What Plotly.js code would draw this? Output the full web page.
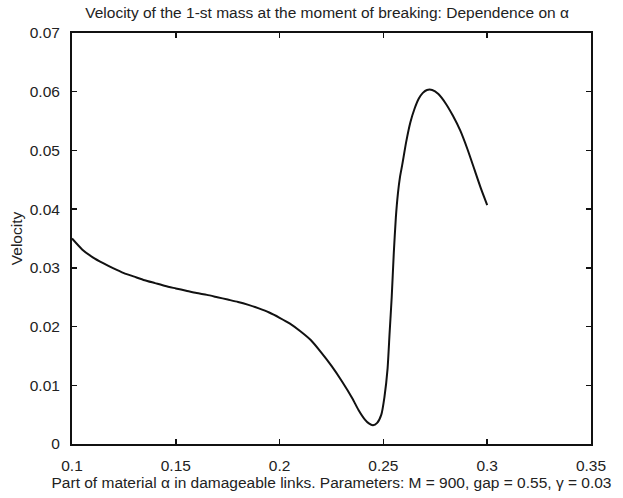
<!DOCTYPE html>
<html>
<head>
<meta charset="utf-8">
<script src="https://cdn.plot.ly/plotly-3.0.1.min.js"></script>
<style>html,body{margin:0;padding:0;background:#fff;}#chart{width:623px;height:498px;}</style>
</head>
<body>
<div id="chart"></div>
<script>
const alphaValues = [0.100,0.105,0.110,0.115,0.120,0.125,0.130,0.135,0.140,0.145,0.150,0.155,0.160,0.165,0.170,0.175,0.180,0.185,0.190,0.195,0.200,0.205,0.210,0.215,0.220,0.225,0.230,0.235,0.238,0.241,0.243,0.245,0.247,0.249,0.2505,0.252,0.253,0.254,0.255,0.256,0.257,0.258,0.259,0.261,0.263,0.265,0.267,0.269,0.271,0.2735,0.2765,0.280,0.2835,0.287,0.2905,0.294,0.297,0.300];
const velocityValues = [0.0350,0.0331,0.0318,0.0308,0.0299,0.0291,0.0285,0.0279,0.0274,0.0269,0.0265,0.0261,0.0257,0.0254,0.0250,0.0246,0.0242,0.0237,0.0231,0.0224,0.0215,0.0205,0.0192,0.0177,0.0156,0.0133,0.0107,0.0078,0.0058,0.0042,0.0035,0.0032,0.0036,0.0050,0.0080,0.0128,0.0190,0.0250,0.0325,0.0386,0.0427,0.0455,0.0474,0.0515,0.0548,0.0571,0.0588,0.0598,0.0603,0.0603,0.0596,0.0580,0.0559,0.0534,0.0502,0.0466,0.0435,0.0407];
const xTickValues = [0.1,0.15,0.2,0.25,0.3,0.35];
const xTickLabels = ["0.1","0.15","0.2","0.25","0.3","0.35"];
const yTickValues = [0,0.01,0.02,0.03,0.04,0.05,0.06,0.07];
const yTickLabels = ["0","0.01","0.02","0.03","0.04","0.05","0.06","0.07"];

const font = "Liberation Sans, Arial, Helvetica, sans-serif";
const fs = 15.5;
const trace = {
  x: alphaValues, y: velocityValues, type: "scatter", mode: "lines",
  line: {color: "#111", width: 2, shape: "spline", smoothing: 0.6},
  hoverinfo: "skip"
};
const axisCommon = {
  showline: true, linecolor: "#111", linewidth: 2, mirror: "ticks",
  ticks: "inside", ticklen: 5, tickwidth: 1.5, tickcolor: "#111",
  showgrid: false, zeroline: false, tickmode: "array",
  tickfont: {family: font, size: fs, color: "#222"}
};
const layout = {
  width: 623, height: 498,
  margin: {l: 72, r: 32, t: 33, b: 54},
  paper_bgcolor: "#fff", plot_bgcolor: "#fff",
  showlegend: false,
  title: {text: "Velocity of the 1-st mass at the moment of breaking: Dependence on α",
          font: {family: font, size: fs, color: "#222"}, x: 0.525, xanchor: "center", y: 0.974, yanchor: "middle"},
  xaxis: Object.assign({}, axisCommon, {
    range: [0.1, 0.35], tickvals: xTickValues, ticktext: xTickLabels, ticklabelstandoff: 6,
    title: {text: "Part of material α in damageable links. Parameters: M = 900, gap = 0.55, γ = 0.03",
            font: {family: font, size: fs, color: "#222"}, standoff: 5}
  }),
  yaxis: Object.assign({}, axisCommon, {
    range: [0, 0.07], tickvals: yTickValues, ticktext: yTickLabels, ticklabelstandoff: 7,
    title: {text: "Velocity", font: {family: font, size: fs, color: "#222"}, standoff: 3}
  })
};
Plotly.newPlot("chart", [trace], layout, {displayModeBar: false, staticPlot: true});
</script>
</body>
</html>
